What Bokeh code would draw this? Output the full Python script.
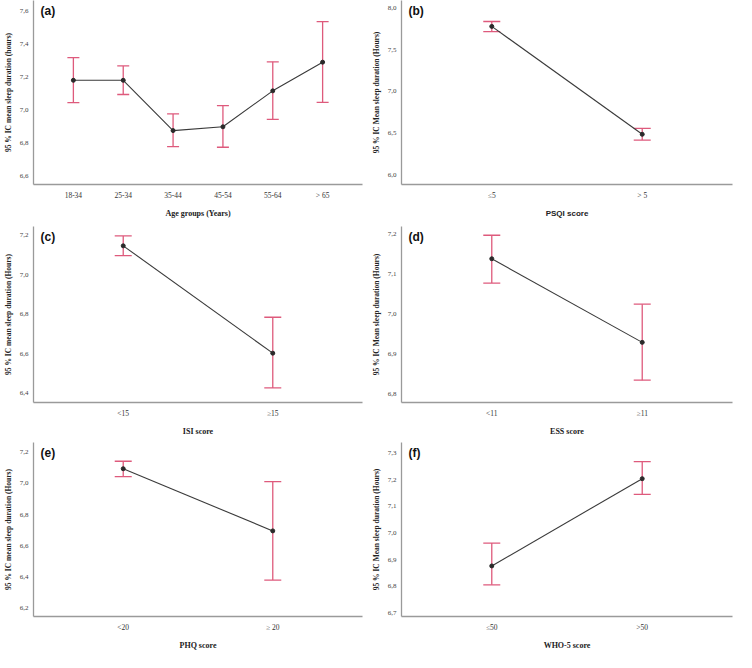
from bokeh.plotting import figure
from bokeh.layouts import gridplot
from bokeh.models import (ColumnDataSource, FactorRange, Range1d, Whisker, TeeHead,
                          FixedTicker, CustomJSTickFormatter, Label)
from bokeh.embed import file_html
from bokeh.resources import INLINE

# ---------------- data ----------------
age_groups = ["18-34", "25-34", "35-44", "45-54", "55-64", "> 65"]
age_mean = [7.18, 7.18, 6.875, 6.898, 7.116, 7.29]
age_upper = [7.317, 7.267, 6.976, 7.026, 7.292, 7.536]
age_lower = [7.044, 7.094, 6.778, 6.774, 6.943, 7.046]
age_ticks = [6.6, 6.8, 7.0, 7.2, 7.4, 7.6]

psqi_groups = ["≤5", "> 5"]
psqi_mean = [7.779, 6.483]
psqi_upper = [7.838, 6.554]
psqi_lower = [7.716, 6.413]
psqi_ticks = [6.0, 6.5, 7.0, 7.5, 8.0]

isi_groups = ["<15", "≥15"]
isi_mean = [7.147, 6.603]
isi_upper = [7.197, 6.785]
isi_lower = [7.097, 6.427]
isi_ticks = [6.4, 6.6, 6.8, 7.0, 7.2]

ess_groups = ["<11", "≥11"]
ess_mean = [7.139, 6.929]
ess_upper = [7.198, 7.025]
ess_lower = [7.078, 6.834]
ess_ticks = [6.8, 6.9, 7.0, 7.1, 7.2]

phq_groups = ["<20", "≥ 20"]
phq_mean = [7.094, 6.696]
phq_upper = [7.142, 7.011]
phq_lower = [7.043, 6.381]
phq_ticks = [6.2, 6.4, 6.6, 6.8, 7.0, 7.2]

who_groups = ["≤50", ">50"]
who_mean = [6.876, 7.204]
who_upper = [6.962, 7.268]
who_lower = [6.805, 7.145]
who_ticks = [6.7, 6.8, 6.9, 7.0, 7.1, 7.2, 7.3]

SERIF = "Liberation Serif"
SANS = "Liberation Sans"
ERR = "#de5a7c"
AXC = "#9a9a9a"


def panel(tag, groups, mean, upper, lower, ticks, yr, ylabel, xlabel,
          width, height, bl, br, bt, bb, pad, cap, xfont=SERIF):
    p = figure(x_range=FactorRange(*groups, range_padding=pad, range_padding_units="absolute"),
               y_range=Range1d(*yr), width=width, height=height,
               output_backend="svg", toolbar_location=None,
               min_border_left=bl, min_border_right=br,
               min_border_top=bt, min_border_bottom=bb)
    src = ColumnDataSource(dict(x=groups, m=mean, u=upper, l=lower))
    w = Whisker(base="x", upper="u", lower="l", source=src, dimension="height",
                line_color=ERR, line_width=1.3,
                upper_head=TeeHead(size=cap, line_color=ERR, line_width=1.3),
                lower_head=TeeHead(size=cap, line_color=ERR, line_width=1.3))
    p.add_layout(w)
    p.line("x", "m", source=src, line_color="#3a3a3a", line_width=1.1)
    p.scatter("x", "m", source=src, size=4, color="#2a2a2a")

    p.xgrid.visible = False
    p.ygrid.visible = False
    p.outline_line_color = None
    p.background_fill_color = "white"

    for ax in (p.xaxis[0], p.yaxis[0]):
        ax.axis_line_color = AXC
        ax.axis_line_width = 1.3
        ax.major_tick_line_color = None
        ax.minor_tick_line_color = None
        ax.major_tick_out = 0
        ax.major_tick_in = 0
        ax.minor_tick_out = 0
        ax.minor_tick_in = 0
        ax.major_label_text_font = SERIF
        ax.major_label_text_font_size = "7px"
        ax.major_label_text_color = "#444444"
        ax.axis_label_text_font_style = "bold"
        ax.axis_label_text_color = "#222222"
    p.yaxis[0].ticker = FixedTicker(ticks=ticks)
    p.yaxis[0].formatter = CustomJSTickFormatter(
        code="return tick.toFixed(1).replace('.', ',');")
    p.yaxis[0].major_label_standoff = 5
    p.yaxis[0].axis_label = ylabel
    p.yaxis[0].axis_label_text_font = SERIF
    p.yaxis[0].axis_label_text_font_size = "7.5px"
    p.yaxis[0].axis_label_standoff = 4
    p.xaxis[0].axis_label = xlabel
    p.xaxis[0].axis_label_text_font = xfont
    p.xaxis[0].axis_label_text_font_size = "8px"
    p.xaxis[0].major_label_standoff = 6
    p.xaxis[0].axis_label_standoff = 6
    p.xaxis[0].major_label_text_font_size = "7.5px"
    p.xaxis[0].major_label_text_color = "#333333"

    lab = Label(x=-pad, y=yr[1], x_offset=7, y_offset=-3, text=tag,
                text_font=SANS, text_font_style="bold", text_font_size="12px",
                text_baseline="top", text_color="#111111")
    p.add_layout(lab)
    return p


W = 368
pa = panel("(a)", age_groups, age_mean, age_upper, age_lower, age_ticks, (6.548, 7.664),
           "95 % IC mean sleep duration (hours)", "Age groups (Years)",
           W, 220, 24, 6, 0, 0, 0.3, 12)
pb = panel("(b)", psqi_groups, psqi_mean, psqi_upper, psqi_lower, psqi_ticks, (5.88, 8.09),
           "95 % IC Mean sleep duration (Hours)", "PSQI score",
           W, 220, 24, 4, 0, 0, 0.1, 17, xfont=SANS)
pc = panel("(c)", isi_groups, isi_mean, isi_upper, isi_lower, isi_ticks, (6.353, 7.245),
           "95 % IC mean sleep duration (Hours)", "ISI score",
           W, 218, 24, 6, 6, 0, 0.1, 17)
pd = panel("(d)", ess_groups, ess_mean, ess_upper, ess_lower, ess_ticks, (6.778, 7.22),
           "95 % IC Mean sleep duration (Hours)", "ESS score",
           W, 218, 24, 4, 6, 0, 0.1, 17)
pe = panel("(e)", phq_groups, phq_mean, phq_upper, phq_lower, phq_ticks, (6.148, 7.262),
           "95 % IC mean sleep duration (Hours)", "PHQ score",
           W, 214, 24, 6, 4, 0, 0.1, 17)
pf = panel("(f)", who_groups, who_mean, who_upper, who_lower, who_ticks, (6.686, 7.34),
           "95 % IC Mean sleep duration (Hours)", "WHO-5 score",
           W, 214, 24, 4, 4, 0, 0.1, 17)

grid = gridplot([[pa, pb], [pc, pd], [pe, pf]], toolbar_location=None)

open("out.html", "w").write(file_html(grid, INLINE))
